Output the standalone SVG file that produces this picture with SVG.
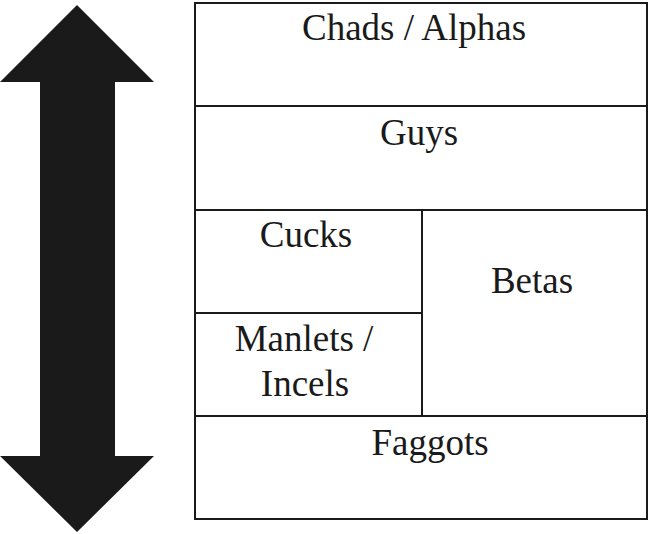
<svg xmlns="http://www.w3.org/2000/svg" width="650" height="534" viewBox="0 0 650 534">
<style>
.cell{fill:#fff;stroke:#1a1a1a;stroke-width:2}
.lbl{font-family:"Liberation Serif","Times New Roman",serif;font-size:37px;fill:#1a1a1a;text-anchor:middle}
</style>
<rect width="650" height="534" fill="#fff"/>
<g id="arrow">
<polygon points="77,5 154,82 115,82 115,456 154,456 77,532 0,456 40,456 40,82 0,82" fill="#1a1a1a"/>
</g>
<g id="chads"><rect class="cell" x="195" y="3" width="452" height="103"/><text class="lbl" x="414" y="40">Chads / Alphas</text></g>
<g id="guys"><rect class="cell" x="195" y="106" width="452" height="104"/><text class="lbl" x="419" y="145">Guys</text></g>
<g id="cucks"><rect class="cell" x="195" y="210" width="227" height="103"/><text class="lbl" x="306" y="247">Cucks</text></g>
<g id="manlets"><rect class="cell" x="195" y="313" width="227" height="103"/><text class="lbl" x="304" y="351">Manlets /</text><text class="lbl" x="305" y="396">Incels</text></g>
<g id="betas"><rect class="cell" x="422" y="210" width="225" height="206"/><text class="lbl" x="532" y="293">Betas</text></g>
<g id="faggots"><rect class="cell" x="195" y="416" width="452" height="103"/><text class="lbl" x="430" y="455">Faggots</text></g>
<g id="connectors"></g>
</svg>
